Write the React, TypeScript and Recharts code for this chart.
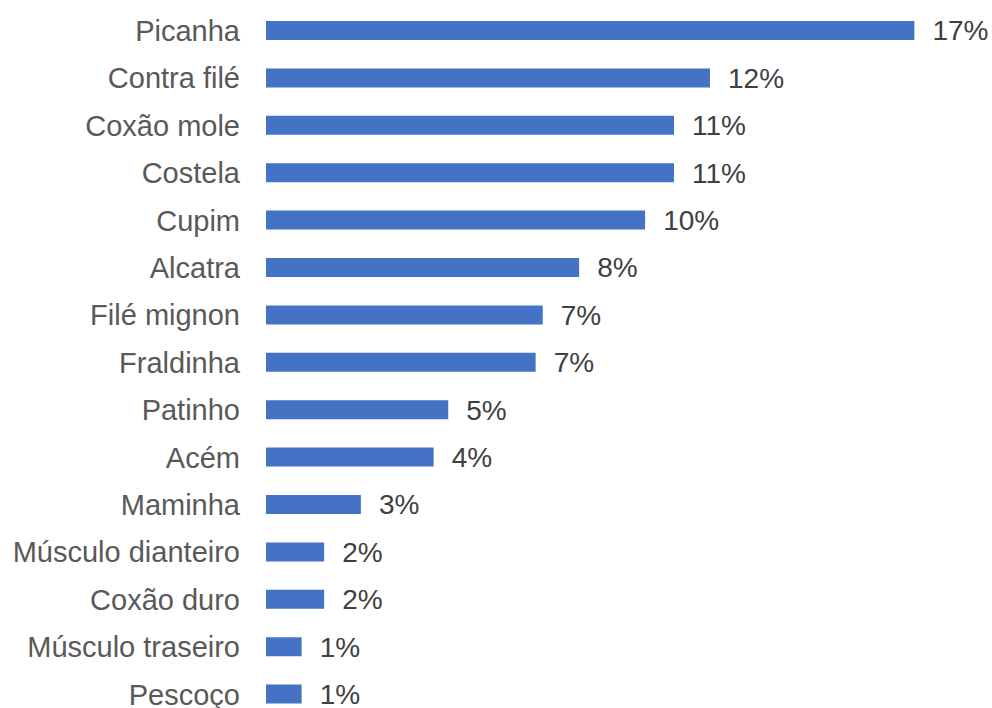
import { BarChart, Bar, XAxis, YAxis, LabelList } from 'recharts';

const categories = [
  'Picanha',
  'Contra filé',
  'Coxão mole',
  'Costela',
  'Cupim',
  'Alcatra',
  'Filé mignon',
  'Fraldinha',
  'Patinho',
  'Acém',
  'Maminha',
  'Músculo dianteiro',
  'Coxão duro',
  'Músculo traseiro',
  'Pescoço',
];

// share of mentions, in percent
const shares = [17.29, 11.84, 10.88, 10.88, 10.11, 8.35, 7.38, 7.19, 4.86, 4.47, 2.53, 1.55, 1.55, 0.95, 0.95];

const data = categories.map((name, i) => ({ name, share: shares[i] }));

const FONT = '"Liberation Sans", Arial, sans-serif';

export default function App() {
  return (
    <div style={{ position: 'absolute', left: 0, top: 0, width: 992, height: 708, overflow: 'hidden', background: '#fff' }}>
      <BarChart
        width={992}
        height={718}
        data={data}
        layout="vertical"
        margin={{ top: 7, right: 51, left: 0, bottom: 0 }}
      >
        <XAxis type="number" domain={[0, 18]} hide />
        <YAxis
          type="category"
          dataKey="name"
          width={266}
          axisLine={false}
          tickLine={false}
          tickSize={0}
          tickMargin={26}
          interval={0}
          tick={{ fill: '#595959', fontSize: 29, fontFamily: FONT }}
        />
        <Bar dataKey="share" fill="#4472C4" barSize={19} isAnimationActive={false}>
          <LabelList
            dataKey="share"
            position="right"
            offset={18}
            formatter={(v: any) => `${Math.round(Number(v))}%`}
            style={{ fill: '#404040', fontSize: 28, fontFamily: FONT }}
          />
        </Bar>
      </BarChart>
    </div>
  );
}
